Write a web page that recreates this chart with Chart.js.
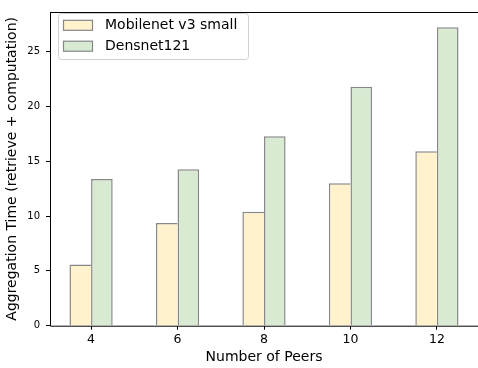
<!DOCTYPE html>
<html>
<head>
<meta charset="utf-8">
<script src="https://cdn.jsdelivr.net/npm/chart.js@4/dist/chart.umd.min.js"></script>
<style>
  html, body { margin: 0; padding: 0; background: #fff; }
  #wrap { width: 478px; height: 368px; }
</style>
</head>
<body>
<div id="wrap"><canvas id="c" width="478" height="368"></canvas></div>
<script>
const categories = ['4', '6', '8', '10', '12'];
const seriesNames = ['Mobilenet v3 small', 'Densnet121'];
const mobilenetValues = [5.59, 9.37, 10.39, 12.98, 15.91];
const densenetValues = [13.37, 14.27, 17.28, 21.79, 27.2];
const yTickValues = [0, 5, 10, 15, 20, 25];
const xTitle = 'Number of Peers';
const yTitle = 'Aggregation Time (retrieve + computation)';

const FONT = "'DejaVu Sans', sans-serif";
const fills = ['#fff2cc', '#d9ead3'];
const edge = '#878787';

function toPoints(vals) { return vals.map((v, i) => ({ x: i, y: v })); }

const spinesPlugin = {
  id: 'spines',
  afterDatasetsDraw(chart) {
    const { ctx, chartArea: a } = chart;
    ctx.save();
    ctx.strokeStyle = '#000';
    ctx.lineWidth = 1;
    ctx.beginPath();
    ctx.moveTo(a.left + 0.5, a.top + 0.5);
    ctx.lineTo(a.left + 0.5, a.bottom + 0.5);
    ctx.lineTo(a.right, a.bottom + 0.5);
    ctx.moveTo(a.left, a.top + 0.5);
    ctx.lineTo(a.right, a.top + 0.5);
    ctx.stroke();
    ctx.restore();
  }
};

const legendPlugin = {
  id: 'boxLegend',
  afterDraw(chart) {
    const { ctx } = chart;
    const x0 = 58.5, y0 = 13.5, w = 190, h = 46, r = 3;
    ctx.save();
    ctx.globalAlpha = 0.8;
    ctx.fillStyle = '#fff';
    ctx.beginPath();
    ctx.roundRect(x0, y0, w, h, r);
    ctx.fill();
    ctx.globalAlpha = 1;
    ctx.strokeStyle = '#d0d0d0';
    ctx.lineWidth = 1;
    ctx.stroke();
    const rows = [25.3, 46.2];
    chart.data.datasets.forEach((ds, i) => {
      const cy = rows[i];
      ctx.fillStyle = ds.backgroundColor;
      ctx.fillRect(63.5, cy - 5, 29, 10);
      ctx.strokeStyle = ds.borderColor;
      ctx.lineWidth = 1.2;
      ctx.strokeRect(63.5, cy - 5, 29, 10);
      ctx.fillStyle = '#000';
      ctx.font = '14px ' + FONT;
      ctx.textBaseline = 'middle';
      ctx.textAlign = 'left';
      ctx.fillText(ds.label, 105, cy + 0.5);
    });
    ctx.restore();
  }
};

new Chart(document.getElementById('c'), {
  type: 'bar',
  data: {
    datasets: [
      { label: seriesNames[0], data: toPoints(mobilenetValues), backgroundColor: fills[0], borderColor: edge,
        borderWidth: { top: 1.5, left: 1.5, bottom: 0, right: 0 }, borderSkipped: false },
      { label: seriesNames[1], data: toPoints(densenetValues), backgroundColor: fills[1], borderColor: edge,
        borderWidth: { top: 1.5, left: 1.5, bottom: 0, right: 1.5 }, borderSkipped: false }
    ]
  },
  options: {
    responsive: false,
    animation: false,
    devicePixelRatio: 1,
    layout: { padding: { top: 6, right: 0, bottom: 0, left: 0 } },
    plugins: { legend: { display: false }, tooltip: { enabled: false } },
    datasets: { bar: { categoryPercentage: 0.5, barPercentage: 1.0, grouped: true } },
    scales: {
      x: {
        type: 'linear',
        min: -0.475,
        max: 4.475,
        offset: false,
        border: { display: false },
        grid: { display: true, offset: false, drawOnChartArea: false, drawTicks: true, tickLength: 4, tickColor: '#000', tickWidth: 1 },
        afterBuildTicks(scale) { scale.ticks = categories.map((c, i) => ({ value: i })); },
        afterFit(scale) { scale.height = 42.3; },
        ticks: {
          autoSkip: false,
          maxRotation: 0,
          padding: 3,
          color: '#000',
          font: { family: FONT, size: 12.5 },
          callback: (v) => categories[Math.round(v)]
        },
        title: { display: true, text: xTitle, color: '#000', font: { family: FONT, size: 14 }, padding: { top: 0, bottom: 2 } }
      },
      y: {
        type: 'linear',
        min: 0,
        max: 28.6,
        border: { display: false },
        grid: { display: true, offset: false, drawOnChartArea: false, drawTicks: true, tickLength: 4, tickColor: '#000', tickWidth: 1 },
        afterBuildTicks(scale) { scale.ticks = yTickValues.map(v => ({ value: v })); },
        afterFit(scale) { scale.width = 50; },
        ticks: {
          padding: 6,
          color: '#000',
          font: { family: FONT, size: 10 }
        },
        title: { display: true, text: yTitle, color: '#000', font: { family: FONT, size: 14 }, padding: { top: 4, bottom: 0 } }
      }
    }
  },
  plugins: [spinesPlugin, legendPlugin]
});
</script>
</body>
</html>
